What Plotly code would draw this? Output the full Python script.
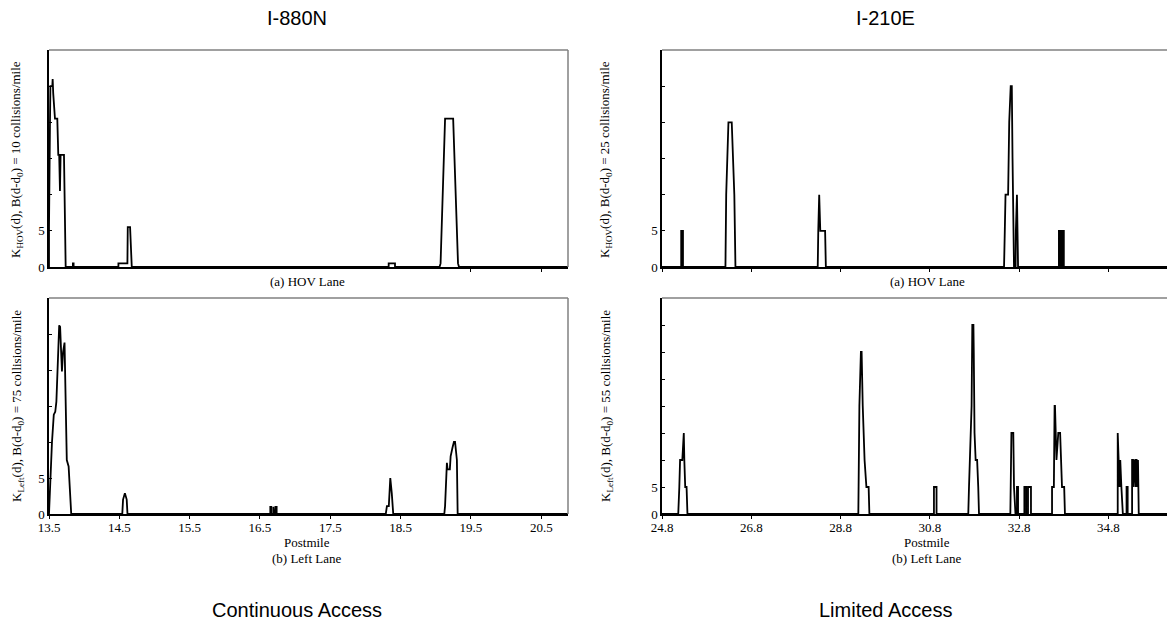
import plotly.graph_objects as go

# The page puts the figure 8px in from the top-left corner, so the figure is
# made 8px smaller and every reference pixel position is shifted by 8px.
OFF = 8
W, H = 1175 - OFF, 633 - OFF

# ---------------- data (postmile, scaled value in tick units) ----------------
tl_x = [13.50, 13.50, 13.514, 13.52, 13.547, 13.552, 13.56, 13.585, 13.618, 13.632, 13.645, 13.656,
        13.665, 13.675, 13.713, 13.737, 13.84, 13.84, 13.85, 13.85, 14.487, 14.487, 14.615, 14.62,
        14.653, 14.677, 18.33, 18.33, 18.42, 18.42, 19.053, 19.068, 19.105, 19.132, 19.247, 19.279,
        19.316, 19.33, 20.9]
tl_y = [0, 5.5, 20, 25, 25, 26, 24, 20.5, 20.5, 15.5, 15.5, 10.5, 15.5, 15.5, 15.5, 0, 0, 0.5, 0.5, 0,
        0, 0.5, 0.5, 5.5, 5.5, 0, 0, 0.5, 0.5, 0, 0, 0.5, 10.5, 20.5, 20.5, 10.5, 0.5, 0, 0]

bl_x = [13.50, 13.516, 13.542, 13.568, 13.589, 13.605, 13.632, 13.645, 13.658, 13.684, 13.70, 13.721,
        13.753, 13.779, 13.816, 14.542, 14.553, 14.579, 14.605, 14.616, 16.647, 16.647, 16.66, 16.66,
        16.69, 16.69, 16.70, 16.70, 16.72, 16.72, 16.737, 16.737, 18.289, 18.305, 18.332, 18.353,
        18.374, 18.395, 19.121, 19.132, 19.158, 19.168, 19.20, 19.211, 19.237, 19.258, 19.274, 19.289,
        19.30, 19.311, 20.9]
bl_y = [0, 4, 9.9, 13.8, 14.2, 15.6, 25.1, 26.2, 26.0, 19.8, 22.5, 23.8, 7.5, 6.6, 0, 0, 2.0, 2.9, 2.0,
        0, 0, 1.0, 1.0, 0, 0, 1.0, 1.0, 0, 0, 1.0, 1.0, 0, 0, 1.1, 1.1, 5.0, 2.9, 0, 0, 1.1, 7.1, 6.2,
        6.2, 8.0, 9.2, 10.0, 10.0, 8.0, 7.5, 0, 0]

tr_x = [24.8, 25.23, 25.23, 25.27, 25.27, 26.221, 26.238, 26.263, 26.288, 26.362, 26.387, 26.42,
        26.445, 28.288, 28.30, 28.321, 28.345, 28.41, 28.453, 28.47, 32.461, 32.478, 32.494, 32.552,
        32.577, 32.61, 32.635, 32.651, 32.668, 32.684, 32.72, 32.726, 32.75, 32.775, 33.69, 33.69,
        33.72, 33.72, 33.76, 33.76, 33.80, 33.80, 36.3]
tr_y = [0, 0, 5, 5, 0, 0, 10, 15, 20, 20, 15, 10, 0, 0, 5, 10, 5, 5, 5, 0, 0, 5, 10, 10, 20, 25, 25,
        15, 5, 0, 0, 5, 10, 0, 0, 5, 5, 0, 0, 5, 5, 0, 0]

br_x = [24.8, 25.164, 25.188, 25.205, 25.255, 25.288, 25.30, 25.32, 25.35, 25.37,
        29.197, 29.221, 29.255, 29.271, 29.296, 29.337, 29.378, 29.428, 29.445,
        30.891, 30.891, 30.949, 30.949,
        31.66, 31.676, 31.709, 31.734, 31.75, 31.775, 31.783, 31.80, 31.825, 31.858, 31.883, 31.90,
        32.602, 32.626, 32.668, 32.684, 32.717,
        32.75, 32.75, 32.775, 32.775,
        32.916, 32.916, 32.957, 32.957,
        32.998, 32.998, 33.064, 33.064,
        33.536, 33.536, 33.577, 33.593, 33.602, 33.635, 33.676, 33.717, 33.742, 33.759, 33.808, 33.825,
        35.007, 35.007, 35.048, 35.064, 35.089, 35.122,
        35.205, 35.205, 35.23, 35.23,
        35.329, 35.329, 35.35, 35.35, 35.37, 35.37, 35.40, 35.40, 35.43, 35.43, 35.461, 35.478, 36.3]
br_y = [0, 0, 5, 10, 10, 15, 10, 5, 5, 0,
        0, 20, 30, 30, 20, 10, 5, 5, 0,
        0, 5, 5, 0,
        0, 5, 15, 20, 35, 35, 30, 15, 10, 10, 5, 0,
        0, 15, 15, 5, 0,
        0, 5, 5, 0,
        0, 5, 5, 0,
        0, 5, 5, 0,
        0, 5, 5, 20, 20, 10, 15, 15, 10, 5, 5, 0,
        0, 15, 5, 10, 5, 0,
        0, 5, 5, 0,
        0, 10, 10, 5, 10, 10, 5, 10, 10, 5, 10, 0, 0]

left_ticks = [13.5, 14.5, 15.5, 16.5, 17.5, 18.5, 19.5, 20.5]
top_left_ticks = [19.5, 20.5]
right_ticks = [24.8, 26.8, 28.8, 30.8, 32.8, 34.8]
left_range = [13.5, 20.88]
right_range = [24.8, 36.29]

panel_titles = ["I-880N", "I-210E"]
bottom_titles = ["Continuous Access", "Limited Access"]
ylabels = [
    "K<sub>HOV</sub>(d), B(d-d<sub>0</sub>) = 10 collisions/mile",
    "K<sub>Left</sub>(d), B(d-d<sub>0</sub>) = 75 collisions/mile",
    "K<sub>HOV</sub>(d), B(d-d<sub>0</sub>) = 25 collisions/mile",
    "K<sub>Left</sub>(d), B(d-d<sub>0</sub>) = 55 collisions/mile",
]

# ---------------- layout geometry (reference pixels -> paper) ----------------
def px(xp):
    return min(1.0, max(0.0, (xp - OFF) / W))

def py(yp):
    return min(1.0, max(0.0, 1 - (yp - OFF) / H))

xdom_left = [px(49), px(568)]
xdom_right = [px(662), 1.0]
ydom_top = [py(267), py(50)]
ydom_bot = [py(514), py(298)]

SERIF = "Liberation Serif, Times New Roman, serif"
SANS = "Liberation Sans, Arial, sans-serif"

fig = go.Figure()
series = [(tl_x, tl_y, "x", "y"), (bl_x, bl_y, "x2", "y2"),
          (tr_x, tr_y, "x3", "y3"), (br_x, br_y, "x4", "y4")]
for xs, ys, xa, ya in series:
    fig.add_trace(go.Scatter(x=xs, y=ys, xaxis=xa, yaxis=ya, mode="lines",
                             line=dict(color="black", width=1.8), showlegend=False,
                             hoverinfo="skip"))

def xaxis(domain, rng, ticks, anchor, labels):
    return dict(domain=domain, range=rng, anchor=anchor, automargin=False,
                tickmode="array", tickvals=ticks, showticklabels=labels,
                ticks="outside", ticklen=3, tickcolor="black", ticklabelstandoff=-2,
                showline=True, linecolor="black", linewidth=1.5, showgrid=False, zeroline=False,
                tickfont=dict(family=SERIF, size=13, color="black"))

def yaxis(domain, top, anchor):
    return dict(domain=domain, range=[0, top], anchor=anchor, automargin=False,
                tickmode="array", tickvals=[0, 5], ticks="inside", ticklen=3, tickcolor="black",
                minor=dict(ticks="inside", ticklen=3, tickcolor="black", tick0=0, dtick=5,
                           showgrid=False),
                showline=True, linecolor="black", linewidth=1.5, showgrid=False, zeroline=False,
                tickfont=dict(family=SERIF, size=13, color="black"))

fig.update_layout(
    template="none",
    width=W, height=H, margin=dict(l=0, r=0, t=0, b=0, pad=0), autosize=False,
    paper_bgcolor="white", plot_bgcolor="white",
    xaxis=xaxis(xdom_left, left_range, top_left_ticks, "y", False),
    yaxis=yaxis(ydom_top, 30, "x"),
    xaxis2=xaxis(xdom_left, left_range, left_ticks, "y2", True),
    yaxis2=yaxis(ydom_bot, 30, "x2"),
    xaxis3=xaxis(xdom_right, right_range, right_ticks, "y3", False),
    yaxis3=yaxis(ydom_top, 30, "x3"),
    xaxis4=xaxis(xdom_right, right_range, right_ticks, "y4", True),
    yaxis4=yaxis(ydom_bot, 40, "x4"),
)

# grey top/right borders
shapes = []
for xd, yd, right in [(xdom_left, ydom_top, True), (xdom_left, ydom_bot, True),
                      (xdom_right, ydom_top, False), (xdom_right, ydom_bot, False)]:
    shapes.append(dict(type="line", xref="paper", yref="paper", x0=xd[0], x1=xd[1],
                       y0=yd[1], y1=yd[1], line=dict(color="#808080", width=1.5)))
    if right:
        shapes.append(dict(type="line", xref="paper", yref="paper", x0=xd[1], x1=xd[1],
                           y0=yd[0], y1=yd[1], line=dict(color="#808080", width=1.5)))
fig.update_layout(shapes=shapes)

ann = []
def add(text, x, y, size, family, angle=0):
    ann.append(dict(text=text, x=x, y=y, xref="paper", yref="paper", showarrow=False,
                    xanchor="center", yanchor="middle", textangle=angle,
                    font=dict(family=family, size=size, color="black")))

for cx, t, b in [(297, panel_titles[0], bottom_titles[0]), (885, panel_titles[1], bottom_titles[1])]:
    add(t, px(cx), py(18), 20, SANS)
    add(b, px(cx), py(610), 20, SANS)

for cx in [307, 927]:
    add("(a) HOV Lane", px(cx), py(281), 13, SERIF)
    add("Postmile", px(cx), py(542), 13, SERIF)
    add("(b) Left Lane", px(cx), py(558), 13, SERIF)

add(ylabels[0], px(17), py(160), 13, SERIF, -90)
add(ylabels[1], px(17), py(406), 13, SERIF, -90)
add(ylabels[2], px(606), py(160), 13, SERIF, -90)
add(ylabels[3], px(606), py(406), 13, SERIF, -90)
fig.update_layout(annotations=ann)

fig.write_html("out.html")
